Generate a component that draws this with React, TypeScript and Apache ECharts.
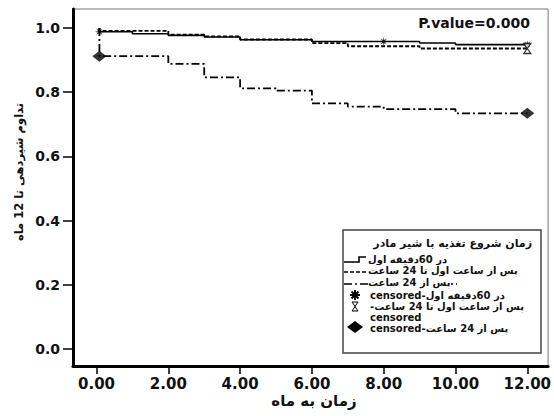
import { useEffect, useRef } from "react";
import * as echarts from "echarts";

// ---- data ----
const xTicks = [0, 2, 4, 6, 8, 10, 12];
const yTicks = [0, 0.2, 0.4, 0.6, 0.8, 1.0];

// within first 60 minutes (solid)
const earlyTimes = [0.08, 0.08, 1, 2, 3, 4, 6, 9, 10, 12];
const earlySurv = [1.0, 0.988, 0.982, 0.977, 0.972, 0.963, 0.958, 0.953, 0.948, 0.948];
// after first hour up to 24 hours (short dash)
const midTimes = [0.08, 0.08, 2, 3, 4, 6, 7, 9, 12];
const midSurv = [1.0, 0.991, 0.979, 0.974, 0.964, 0.953, 0.943, 0.936, 0.936];
// after 24 hours (dash-dot)
const lateTimes = [0.08, 0.08, 2, 3, 4, 5, 6, 7, 8, 10, 12];
const lateSurv = [1.0, 0.912, 0.888, 0.846, 0.812, 0.805, 0.765, 0.755, 0.747, 0.734, 0.734];

const earlyCensoredT = [0.08, 8, 12];
const earlyCensoredS = [0.988, 0.958, 0.948];
const midCensoredT = [12];
const midCensoredS = [0.936];
const lateCensoredT = [0.08, 12];
const lateCensoredS = [0.912, 0.734];

const yTitle = "تداوم شیردهی تا 12 ماه";
const xTitle = "زمان به ماه";
const pText = "P.value=0.000";
const legendTitle = "زمان شروع تغذیه با شیر مادر";
const legEarly = "در 60دقیقه اول";
const legMid = "پس از ساعت اول تا 24 ساعت";
const legLate = "پس از 24 ساعت";
const legEarlyC = "censored-در 60دقیقه اول";
const legMidC1 = "-پس از ساعت اول تا 24 ساعت";
const legMidC2 = "censored";
const legLateC = "censored-پس از 24 ساعت";

const zip = (a: number[], b: number[]) => a.map((v, i) => [v, b[i]]);

const starPath = (() => {
  let d = "";
  for (let i = 0; i < 16; i++) {
    const r = i % 2 === 0 ? 10 : 3.5;
    const a = (i * Math.PI) / 8 - Math.PI / 2;
    d += (i === 0 ? "M" : "L") + (10 + r * Math.cos(a)).toFixed(2) + "," + (10 + r * Math.sin(a)).toFixed(2) + " ";
  }
  return "path://" + d + "Z";
})();
const hourglassPath = "path://M0,0 L10,0 L0,14 L10,14 Z";

const FONT = "'DejaVu Sans', 'Liberation Sans', sans-serif";

export default function App() {
  const ref = useRef<HTMLDivElement>(null);
  useEffect(() => {
    if (!ref.current) return;
    const chart = echarts.init(ref.current, null, { renderer: "svg" });
    const lineBase = { type: "line", step: "end", showSymbol: false, symbol: "none", z: 3 };
    const legText = (x: number, y: number, t: string, bg = false) => ({
      type: "text",
      x,
      y,
      z: 20,
      style: {
        text: t,
        fill: "#111",
        font: `bold 10px ${FONT}`,
        textAlign: "left",
        textVerticalAlign: "middle",
        backgroundColor: bg ? "#fff" : undefined,
      },
    });
    chart.setOption({
      animation: false,
      backgroundColor: "#fff",
      grid: { left: 73, top: 9, right: 3, bottom: 50, show: true, borderColor: "#777", borderWidth: 1, backgroundColor: "#fff" },
      xAxis: {
        type: "value",
        min: -0.656,
        max: 12.58,
        axisLine: { show: true, onZero: false, lineStyle: { color: "#000", width: 3 } },
        axisTick: { show: true, customValues: xTicks, length: 8, lineStyle: { color: "#000", width: 1.5 } },
        axisLabel: {
          customValues: xTicks,
          formatter: (v: number) => v.toFixed(2),
          fontFamily: FONT,
          fontWeight: "bold",
          fontSize: 15,
          color: "#111",
          margin: 10,
        },
        splitLine: { show: false },
      },
      yAxis: {
        type: "value",
        min: -0.053,
        max: 1.059,
        axisLine: { show: true, onZero: false, lineStyle: { color: "#000", width: 3 } },
        axisTick: { show: true, customValues: yTicks, length: 10, lineStyle: { color: "#000", width: 1.5 } },
        axisLabel: {
          customValues: yTicks,
          formatter: (v: number) => v.toFixed(1),
          fontFamily: FONT,
          fontWeight: "bold",
          fontSize: 14,
          color: "#111",
          margin: 13,
        },
        splitLine: { show: false },
      },
      series: [
        { ...lineBase, data: zip(earlyTimes, earlySurv), lineStyle: { color: "#000", width: 1.6, type: "solid" } },
        { ...lineBase, data: zip(midTimes, midSurv), lineStyle: { color: "#000", width: 1.8, type: [4, 2] } },
        { ...lineBase, data: zip(lateTimes, lateSurv), lineStyle: { color: "#000", width: 1.8, type: [8, 3, 2, 3] } },
        {
          type: "scatter",
          data: zip(earlyCensoredT, earlyCensoredS),
          symbol: starPath,
          symbolSize: 9,
          itemStyle: { color: "#000" },
          z: 5,
        },
        {
          type: "scatter",
          data: zip(midCensoredT, midCensoredS),
          symbol: hourglassPath,
          symbolSize: [7, 10],
          itemStyle: { color: "#fff", borderColor: "#000", borderWidth: 1.2 },
          z: 5,
        },
        {
          type: "scatter",
          data: zip(lateCensoredT, lateCensoredS),
          symbol: "diamond",
          symbolSize: [14, 11],
          itemStyle: { color: "#000" },
          z: 5,
        },
      ],
      graphic: [
        {
          type: "text",
          x: 19,
          y: 172,
          rotation: Math.PI / 2,
          style: { text: yTitle, fill: "#111", font: `bold 11.5px ${FONT}`, textAlign: "center", textVerticalAlign: "middle" },
        },
        {
          type: "text",
          x: 314,
          y: 401,
          style: { text: xTitle, fill: "#111", font: `bold 15px ${FONT}`, textAlign: "center", textVerticalAlign: "middle" },
        },
        {
          type: "text",
          x: 530,
          y: 23,
          style: { text: pText, fill: "#111", font: `bold 14px ${FONT}`, textAlign: "right", textVerticalAlign: "middle" },
        },
        {
          type: "rect",
          shape: { x: 343, y: 230, width: 198, height: 123 },
          style: { fill: "#fff", stroke: "#444", lineWidth: 1.5 },
          z: 10,
        },
        {
          type: "text",
          x: 532,
          y: 243,
          z: 20,
          style: { text: legendTitle, fill: "#111", font: `bold 11px ${FONT}`, textAlign: "right", textVerticalAlign: "middle" },
        },
        {
          type: "polyline",
          z: 15,
          shape: { points: [[344, 262], [359, 262], [359, 257], [366, 257]] },
          style: { stroke: "#000", lineWidth: 1.6, fill: "none" },
        },
        legText(368, 259, legEarly),
        {
          type: "line",
          z: 15,
          shape: { x1: 344, y1: 272, x2: 507, y2: 272 },
          style: { stroke: "#000", lineWidth: 1.6, lineDash: [4, 2] },
        },
        legText(368, 270, legMid, true),
        {
          type: "line",
          z: 15,
          shape: { x1: 344, y1: 284, x2: 457, y2: 284 },
          style: { stroke: "#000", lineWidth: 1.6, lineDash: [8, 3, 2, 3] },
        },
        legText(368, 282, legLate, true),
        // star marker
        { type: "line", z: 15, shape: { x1: 350, y1: 295, x2: 360, y2: 295 }, style: { stroke: "#000", lineWidth: 2 } },
        { type: "line", z: 15, shape: { x1: 355, y1: 290, x2: 355, y2: 300 }, style: { stroke: "#000", lineWidth: 2 } },
        { type: "line", z: 15, shape: { x1: 351.5, y1: 291.5, x2: 358.5, y2: 298.5 }, style: { stroke: "#000", lineWidth: 2 } },
        { type: "line", z: 15, shape: { x1: 351.5, y1: 298.5, x2: 358.5, y2: 291.5 }, style: { stroke: "#000", lineWidth: 2 } },
        legText(370, 295, legEarlyC),
        // hourglass marker
        {
          type: "polygon",
          z: 15,
          shape: { points: [[352, 302], [358, 302], [352, 311], [358, 311]] },
          style: { stroke: "#000", lineWidth: 1, fill: "none" },
        },
        legText(370, 306, legMidC1),
        legText(370, 317, legMidC2),
        // diamond marker
        {
          type: "polygon",
          z: 15,
          shape: { points: [[347, 327], [355, 321], [363, 327], [355, 333]] },
          style: { fill: "#000" },
        },
        legText(370, 328, legLateC),
      ],
    });
    return () => chart.dispose();
  }, []);
  return <div ref={ref} style={{ position: "absolute", left: 0, top: 0, width: 554, height: 416, background: "#fff" }} />;
}
